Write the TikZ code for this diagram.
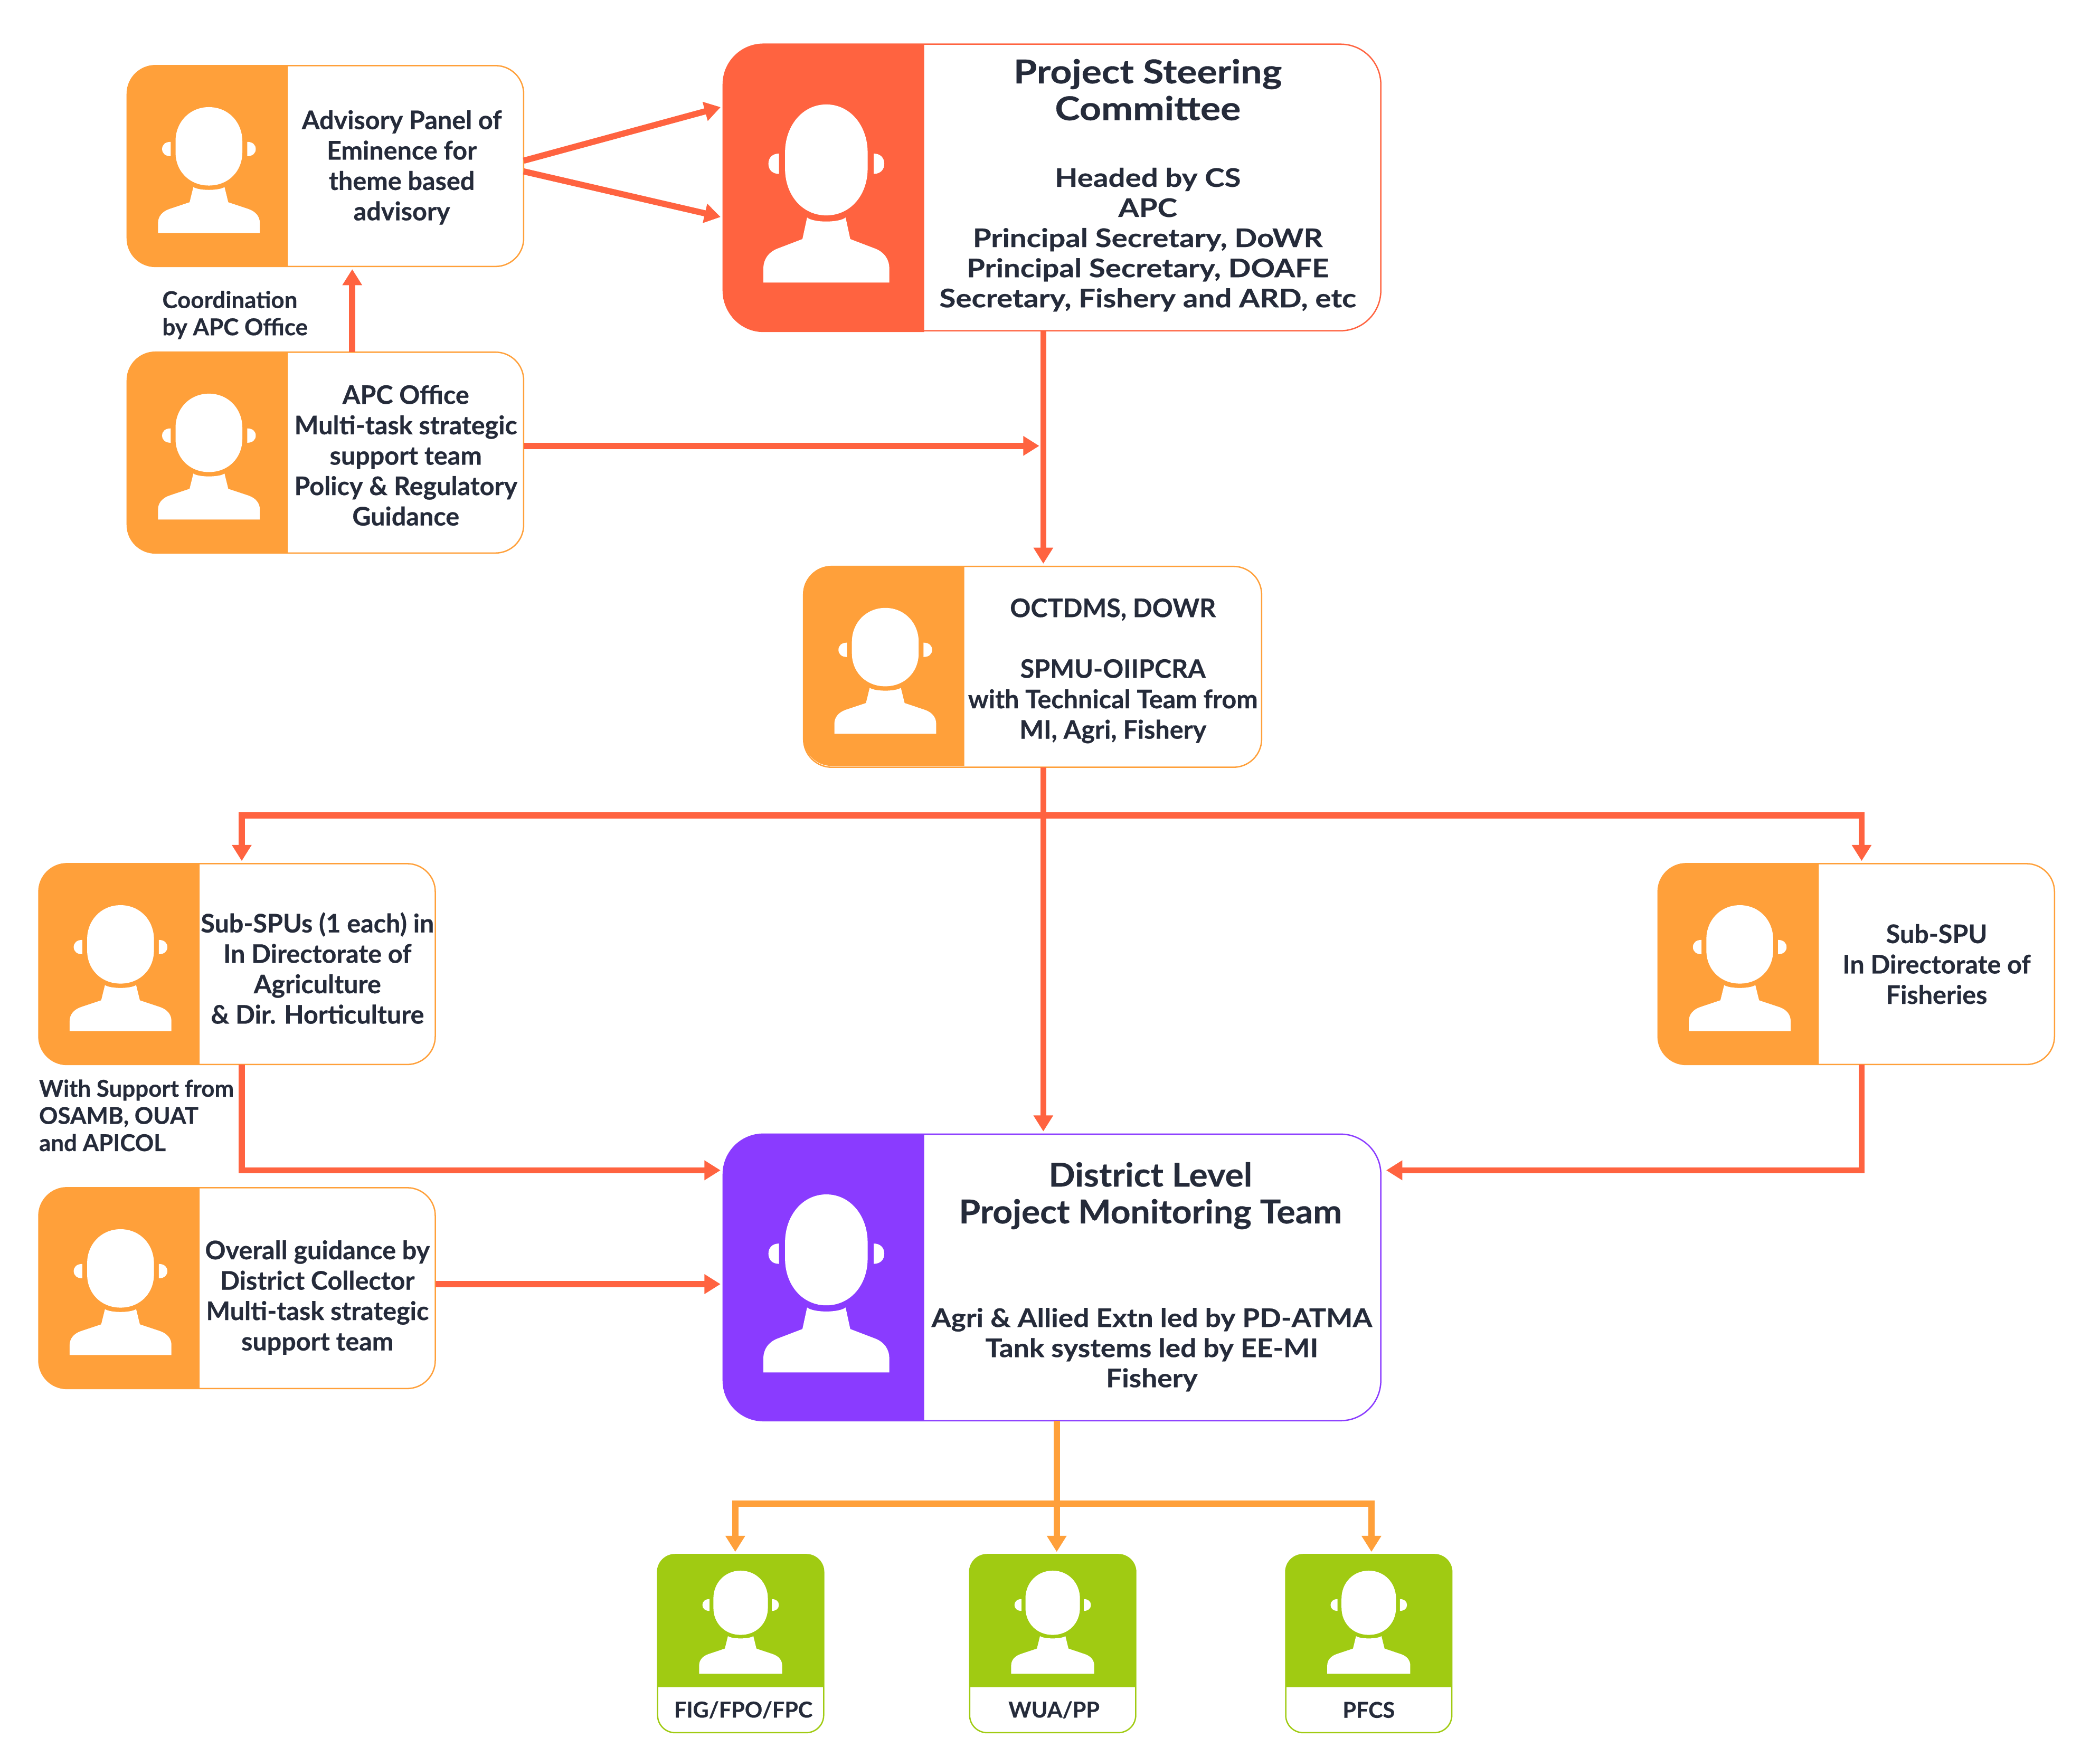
\documentclass[tikz,border=0pt]{standalone}
\usepackage{fontspec}
\usepackage{xcolor}
\usepackage{tikz}
\usetikzlibrary{arrows.meta,calc}
\setmainfont{Lato}[BoldFont={Lato Bold}, BoldFeatures={FakeBold=0.45}]
\definecolor{ink}{HTML}{252B3A}
\definecolor{amber}{HTML}{FFA03A}
\definecolor{flame}{HTML}{FF6340}
\definecolor{violet}{HTML}{8A3BFF}
\definecolor{lime}{HTML}{A0CB12}
\tikzset{
  card/.style={draw, fill=white, line width=1pt, inner sep=0pt, outer sep=0pt, anchor=north west},
  cardS/.style={card, minimum width=296pt, minimum height=150pt, rounded corners=21pt, draw=amber},
  cardL/.style={card, minimum width=491pt, minimum height=214pt, rounded corners=30pt},
  cardG/.style={card, minimum width=124pt, minimum height=133pt, rounded corners=13pt, draw=lime},
  flow/.style={-{Triangle[length=12pt,width=14pt]}, line width=4.6pt, draw=flame, shorten >=2pt},
  flowG/.style={flow, draw=amber},
  lab/.style={text=ink, align=center, inner sep=0pt, font=\fontsize{19.1}{22.7}\selectfont\bfseries},
  labS/.style={lab, font=\fontsize{19.1}{22.5}\selectfont\bfseries\addfontfeature{FakeStretch=1.165}},
  labD/.style={lab, font=\fontsize{19.1}{22.5}\selectfont\bfseries\addfontfeature{FakeStretch=1.1}},
  headS/.style={lab, font=\fontsize{24.5}{27.5}\selectfont\bfseries\addfontfeature{FakeStretch=1.15}},
  headD/.style={lab, font=\fontsize{24.5}{27.5}\selectfont\bfseries\addfontfeature{FakeStretch=1.06}},
  note/.style={lab, align=left, anchor=north west, font=\fontsize{17.3}{20.3}\selectfont\bfseries},
  tag/.style={lab, font=\fontsize{16.3}{20}\selectfont\bfseries},
  iconS/.style={xscale=76, yscale=94},
  iconL/.style={xscale=94, yscale=133},
  iconG/.style={xscale=62, yscale=77},
  person/.pic={
    \fill[white] (0,0) .. controls (.19,0) and (.328,.12) .. (.328,.27) -- (.328,.36)
      .. controls (.328,.51) and (.19,.623) .. (0,.623)
      .. controls (-.19,.623) and (-.328,.51) .. (-.328,.36) -- (-.328,.27)
      .. controls (-.328,.12) and (-.19,0) .. (0,0) -- cycle;
    \fill[white] (.376,.276) .. controls (.43,.276) and (.46,.3) .. (.46,.333)
      .. controls (.46,.366) and (.43,.39) .. (.376,.39) -- cycle;
    \fill[white] (-.376,.276) .. controls (-.43,.276) and (-.46,.3) .. (-.46,.333)
      .. controls (-.46,.366) and (-.43,.39) .. (-.376,.39) -- cycle;
    \fill[white] (-.153,.635) .. controls (-.1,.665) and (.1,.665) .. (.153,.635)
      -- (.19,.756) -- (.39,.81) .. controls (.46,.83) and (.5,.87) .. (.5,.92)
      -- (.5,1) -- (-.5,1) -- (-.5,.92) .. controls (-.5,.87) and (-.46,.83) .. (-.39,.81)
      -- (-.19,.756) -- cycle;
  }
}

\begin{document}
\begin{tikzpicture}[x=1pt, y=-1pt]
  \useasboundingbox (0,0) rectangle (1568,1312);
  \fill[white] (0,0) rectangle (1568,1312);

  % top row
  \node[cardS] (advisory) at (95,49) {};
  \fill[amber] (215,49) [rounded corners=21pt] -- (95,49) -- (95,199) [sharp corners] -- (215,199) -- cycle;
  \pic[iconS] at (156,80) {person};
  \node[lab] (advisorytxt) at (300,125) {Advisory Panel of\\Eminence for\\theme based\\advisory};

  \node[cardS] (apc) at (95,263) {};
  \fill[amber] (215,263) [rounded corners=21pt] -- (95,263) -- (95,413) [sharp corners] -- (215,413) -- cycle;
  \pic[iconS] at (156,294) {person};
  \node[lab] (apctxt) at (303,340) {APC Office\\Multi-task strategic\\support team\\Policy \& Regulatory\\Guidance};

  \node[cardL, draw=flame] (steering) at (540,33) {};
  \fill[flame] (690,33) [rounded corners=30pt] -- (540,33) -- (540,248) [sharp corners] -- (690,248) -- cycle;
  \pic[iconL] at (617,78) {person};
  \node[headS] (steeringhead) at (857,67) {Project Steering\\Committee};
  \node[labS] (steeringtxt) at (857,179) {Headed by CS\\APC\\Principal Secretary, DoWR\\Principal Secretary, DOAFE\\Secretary, Fishery and ARD, etc};

  \node[note] (coordnote) at (121,217) {Coordination\\by APC Office};

  % middle
  \node[cardS, minimum width=342pt] (octdms) at (600,423) {};
  \fill[amber] (720,423) [rounded corners=21pt] -- (600,423) -- (600,572) [sharp corners] -- (720,572) -- cycle;
  \pic[iconS] at (661,454) {person};
  \node[lab] (octdmstxt) at (831,501) {OCTDMS, DOWR\\[22.7pt]SPMU-OIIPCRA\\with Technical Team from\\MI, Agri, Fishery};

  \node[cardS] (subleft) at (29,645) {};
  \fill[amber] (149,645) [rounded corners=21pt] -- (29,645) -- (29,795) [sharp corners] -- (149,795) -- cycle;
  \pic[iconS] at (90,676) {person};
  \node[lab] (sublefttxt) at (237,723) {Sub-SPUs (1 each) in\\In Directorate of\\Agriculture\\\& Dir. Horticulture};

  \node[cardS] (subright) at (1238,645) {};
  \fill[amber] (1358,645) [rounded corners=21pt] -- (1238,645) -- (1238,795) [sharp corners] -- (1358,795) -- cycle;
  \pic[iconS] at (1299,676) {person};
  \node[lab] (subrighttxt) at (1446,720) {Sub-SPU\\In Directorate of\\Fisheries};

  \node[note] (supportnote) at (29,806) {With Support from\\OSAMB, OUAT\\and APICOL};

  \node[cardS] (overall) at (29,887) {};
  \fill[amber] (149,887) [rounded corners=21pt] -- (29,887) -- (29,1037) [sharp corners] -- (149,1037) -- cycle;
  \pic[iconS] at (90,918) {person};
  \node[lab] (overalltxt) at (237,969) {Overall guidance by\\District Collector\\Multi-task strategic\\support team};

  \node[cardL, draw=violet] (district) at (540,847) {};
  \fill[violet] (690,847) [rounded corners=30pt] -- (540,847) -- (540,1061) [sharp corners] -- (690,1061) -- cycle;
  \pic[iconL] at (617,892) {person};
  \node[headD] (districthead) at (859,893) {District Level\\Project Monitoring Team};
  \node[labD] (districttxt) at (860,1008) {Agri \& Allied Extn led by PD-ATMA\\Tank systems led by EE-MI\\Fishery};

  % bottom row
  \node[cardG] (fig) at (491,1161) {};
  \fill[lime] (491,1260) [rounded corners=13pt] -- (491,1161) -- (615,1161) [sharp corners] -- (615,1260) -- cycle;
  \pic[iconG] at (553,1173) {person};
  \node[tag] (figtxt) at (555,1277) {FIG/FPO/FPC};

  \node[cardG] (wua) at (724,1161) {};
  \fill[lime] (724,1260) [rounded corners=13pt] -- (724,1161) -- (848,1161) [sharp corners] -- (848,1260) -- cycle;
  \pic[iconG] at (786,1173) {person};
  \node[tag] (wuatxt) at (787,1277) {WUA/PP};

  \node[cardG] (pfcs) at (960,1161) {};
  \fill[lime] (960,1260) [rounded corners=13pt] -- (960,1161) -- (1084,1161) [sharp corners] -- (1084,1260) -- cycle;
  \pic[iconG] at (1022,1173) {person};
  \node[tag] (pfcstxt) at (1022,1277) {PFCS};

  % connectors
  \coordinate (fork) at (779,609);
  \coordinate (merge) at (778,333);
  \coordinate (forkG) at (789,1123);

  \draw[flow] ([yshift=4pt]advisory.east) -- ([yshift=60.5pt]steering.west);
  \draw[flow] ([yshift=-4pt]advisory.east) -- ([yshift=-22.5pt]steering.west);
  \draw[flow] ([xshift=20pt]apc.north) -- ([xshift=20pt]advisory.south);
  \draw[flow] ([yshift=5pt]apc.east) -- (merge);
  \draw[flow] ([xshift=-6.5pt]steering.south) -- ([xshift=8pt]octdms.north);
  \draw[flow] ([xshift=8pt]octdms.south) -- ([xshift=-6.5pt]district.north);
  \draw[flow] (fork) -| ([xshift=3.5pt]subleft.north);
  \draw[flow] (fork) -| ([xshift=4pt]subright.north);
  \draw[flow] ([xshift=3.5pt]subleft.south) |- ([yshift=80pt]district.west);
  \draw[flow] ([xshift=4pt]subright.south) |- ([xshift=2pt,yshift=80pt]district.east);
  \draw[flow] ([yshift=3pt]overall.east) -- ([yshift=-5pt]district.west);

  \draw[flowG] ([xshift=3.5pt]district.south) -- ([xshift=3pt]wua.north);
  \draw[flowG] (forkG) -| ([xshift=-4pt]fig.north);
  \draw[flowG] (forkG) -| ([xshift=2pt]pfcs.north);
\end{tikzpicture}
\end{document}
